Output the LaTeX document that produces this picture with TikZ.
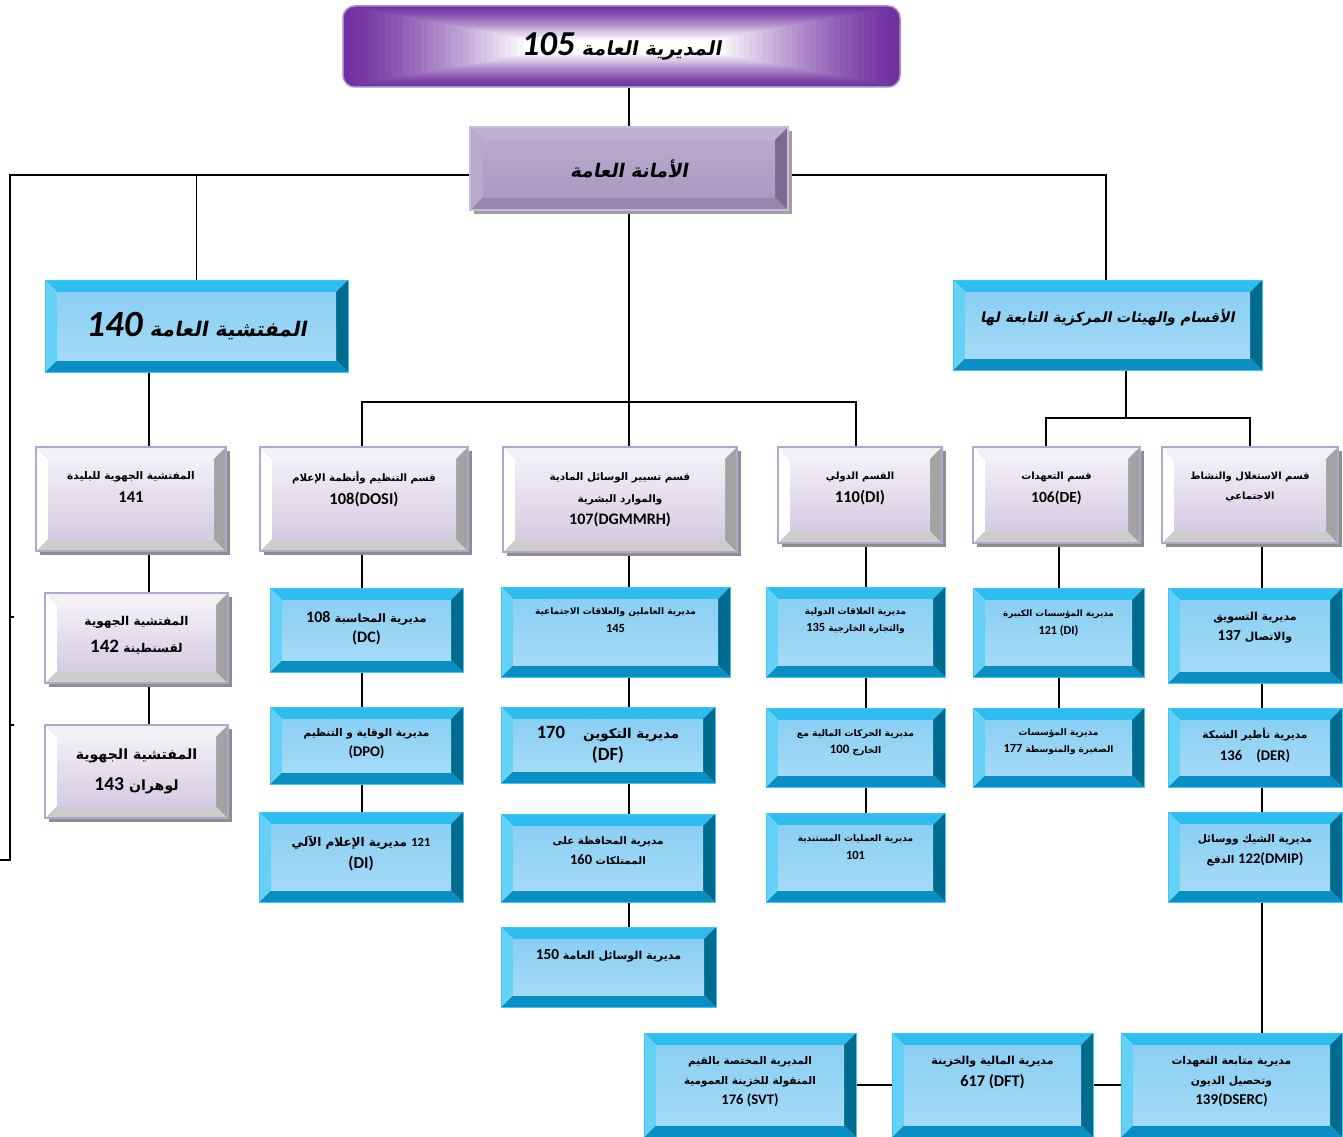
\documentclass[tikz,border=0pt]{standalone}
\usepackage{fontspec}
\usetikzlibrary{shadows,backgrounds}
\TeXXeTstate=1
\setmainfont{Carlito}
\newfontfamily\arfont[Script=Arabic,Scale=0.72]{DejaVu Sans}
\newfontfamily\arslant[Script=Arabic,Scale=0.72,FakeSlant=0.18]{DejaVu Sans}
\newcommand\arl[1]{{\arfont\beginR #1\endR}}
\newcommand\arh[1]{{\arslant\beginR #1\endR}}
\newcommand\nmb[1]{{\rmfamily\beginL #1\endL}}
\newcommand\nmh[1]{{\rmfamily\itshape\beginL #1\endL}}
% larger Latin codes used in the department boxes
\newcommand\codeline[2][16.5]{{\fontsize{#1}{23}\selectfont #2}}

\definecolor{dgPurple}{HTML}{7030A0}
\definecolor{dgEdge}{HTML}{A68CC6}
\definecolor{bOut}{HTML}{3FC6F2}
\definecolor{bTop}{HTML}{2DBDEF}
\definecolor{bLeft}{HTML}{66D1F6}
\definecolor{bRight}{HTML}{006B8F}
\definecolor{bBot}{HTML}{0A8FC4}
\definecolor{bF1}{HTML}{8ACFF3}
\definecolor{bF2}{HTML}{EEF9FE}
\definecolor{bF3}{HTML}{A4DAF6}
\definecolor{lOut}{HTML}{B5A5CD}
\definecolor{lTop}{HTML}{F3F0F6}
\definecolor{lLeft}{HTML}{FFFFFF}
\definecolor{lRight}{HTML}{A3A3A3}
\definecolor{lBot}{HTML}{CCCCCC}
\definecolor{lF1}{HTML}{F2EFF5}
\definecolor{lF2}{HTML}{E4DDEC}
\definecolor{lF3}{HTML}{D5CBE2}
\definecolor{lShade}{HTML}{8E8E8E}
\definecolor{sTop}{HTML}{BEB0D4}
\definecolor{sLeft}{HTML}{B7A8CE}
\definecolor{sRight}{HTML}{7B6A8F}
\definecolor{sBot}{HTML}{9787AD}
\definecolor{sF1}{HTML}{B8A9CE}
\definecolor{sF2}{HTML}{B3A4CA}
\definecolor{sF3}{HTML}{AA9AC1}
\definecolor{sOut}{HTML}{C8BBDB}

% four bevel trapezoids and a shaded face inside the current node
\newcommand\bevelfaces[8]{%
  \path (path picture bounding box.south west) coordinate (bq1)
        (path picture bounding box.north east) coordinate (bq3);
  \path (bq1) ++(#8,#8) coordinate (bi1);
  \path (bq3) ++(-#8,-#8) coordinate (bi3);
  \fill[#1] (bq1 |- bq3) -- (bq3) -- (bi3) -- (bi1 |- bi3) -- cycle;
  \fill[#4] (bq1) -- (bq1 -| bq3) -- (bi1 -| bi3) -- (bi1) -- cycle;
  \fill[#2] (bq1) -- (bi1) -- (bi1 |- bi3) -- (bq1 |- bq3) -- cycle;
  \fill[#3] (bq1 -| bq3) -- (bq3) -- (bi3) -- (bi1 -| bi3) -- cycle;
  \shade[top color=#5, middle color=#6, bottom color=#7] (bi1) rectangle (bi3);
}

\tikzset{
  wire/.style={line width=1.4pt, black},
  boxbase/.style={inner sep=0pt, align=center, text=black},
  bluebox/.style={boxbase, draw=bOut, line width=0.8pt,
    path picture={\bevelfaces{bTop}{bLeft}{bRight}{bBot}{bF1}{bF2}{bF3}{12pt}}},
  lavbox/.style={boxbase, draw=lOut, line width=1.8pt,
    drop shadow={shadow xshift=4pt, shadow yshift=-4pt, fill=lShade, opacity=1, draw=none},
    path picture={\bevelfaces{lTop}{lLeft}{lRight}{lBot}{lF1}{lF2}{lF3}{12pt}}},
  secbox/.style={boxbase, draw=sOut, line width=1.2pt,
    drop shadow={shadow xshift=4pt, shadow yshift=-4pt, fill=gray!75, opacity=1, draw=none},
    path picture={\bevelfaces{sTop}{sLeft}{sRight}{sBot}{sF1}{sF2}{sF3}{13pt}}},
  sz/.style 2 args={font=\bfseries\fontsize{#1}{#2}\selectfont},
  raisetext/.style={text depth=#1},
}

\begin{document}
\begin{tikzpicture}[x=1pt,y=-1pt]
\path[use as bounding box] (0,0) rectangle (1343,1137);
\begin{pgfonlayer}{background}
  \fill[white] (0,0) rectangle (1343,1137);
\end{pgfonlayer}

% ---- head of the chart: rectangular purple-to-white gradient
\begin{scope}
  \clip[rounded corners=12pt] (343,6) rectangle (900,87);
  \foreach \i in {0,...,30} {
    \pgfmathsetmacro\pc{100*(\i/30)^1.3}
    \fill[white!\pc!dgPurple] (343+\i*6, 6+\i*1.1) rectangle (900-\i*6, 87-\i*1.1);
  }
\end{scope}
\node[draw=dgEdge, line width=1.5pt, rounded corners=12pt, minimum width=557pt,
      minimum height=81pt, inner sep=0pt, sz={27}{30}] (dg) at (621.5,46.5)
      {\arh{المديرية العامة {\fontsize{35}{36}\selectfont\nmh{105}}}};

\node[secbox, minimum width=318pt, minimum height=83pt, sz={26}{28}] (sec) at (629,168.5)
      {\arh{الأمانة العامة}};

% ---- second level
\node[bluebox, minimum width=303pt, minimum height=92pt, sz={28}{30}] (insp) at (196.5,326)
      {\arh{المفتشية العامة {\fontsize{37}{38}\selectfont\nmh{140}}}};
\node[bluebox, minimum width=309pt, minimum height=90pt, sz={19.5}{22}, raisetext=18pt] (depts) at (1107.5,325)
      {\arh{الأقسام والهيئات المركزية التابعة لها}};

% ---- departments and regional inspections
\node[lavbox, minimum width=190pt, minimum height=104pt, sz={14.6}{23}, raisetext=23pt] (n141) at (131,499)
      {\arl{المفتشية الجهوية للبليدة}\\\codeline{141}};
\node[lavbox, minimum width=208pt, minimum height=104pt, sz={14.2}{23}, raisetext=23pt] (n108) at (364,499)
      {\arl{قسم التنظيم وأنظمة الإعلام}\\\codeline{108(DOSI)}};
\node[lavbox, minimum width=234pt, minimum height=105pt, sz={14.4}{22}] (n107) at (620,499.5)
      {\arl{قسم تسيير الوسائل المادية}\\\arl{والموارد البشرية}\\\codeline[16]{107(DGMMRH)}};
\node[lavbox, minimum width=164pt, minimum height=96pt, sz={13.8}{23}, raisetext=15pt] (n110) at (860,495)
      {\arl{القسم الدولي}\\\codeline{110(DI)}};
\node[lavbox, minimum width=167pt, minimum height=96pt, sz={13.8}{23}, raisetext=15pt] (n106) at (1056.5,495)
      {\arl{قسم التعهدات}\\\codeline[15.5]{106(DE)}};
\node[lavbox, minimum width=176pt, minimum height=96pt, sz={13.8}{20}, raisetext=19pt] (nsoc) at (1250,495)
      {\arl{قسم الاستغلال والنشاط}\\\arl{الاجتماعي}};
\node[lavbox, minimum width=183pt, minimum height=90pt, sz={16.8}{27}, raisetext=7pt] (n142) at (136.5,638)
      {\arl{المفتشية الجهوية}\\\arl{لقسنطينة {\fontsize{19}{27}\selectfont\nmb{142}}}};
\node[lavbox, minimum width=183pt, minimum height=93pt, sz={19.6}{31}] (n143) at (136.5,771.5)
      {\arl{المفتشية الجهوية}\\\arl{لوهران \nmb{143}}};

% ---- directorates
\node[bluebox, minimum width=193pt, minimum height=84pt, sz={16}{20}, raisetext=7pt] (dc) at (366.5,630)
      {\arl{مديرية المحاسبة \nmb{108}}\\(DC)};
\node[bluebox, minimum width=193pt, minimum height=77pt, sz={14.7}{20}, raisetext=7pt] (dpo) at (366.5,745.5)
      {\arl{مديرية الوقاية و التنظيم}\\(DPO)};
\node[bluebox, minimum width=204pt, minimum height=90pt, sz={16.7}{22}, raisetext=9pt] (dia) at (361,857)
      {\arl{{\fontsize{12.5}{14}\selectfont\nmb{121}} مديرية الإعلام الآلي}\\(DI)};

\node[bluebox, minimum width=229pt, minimum height=90pt, sz={12.5}{18}, raisetext=23pt] (d145) at (615.5,632)
      {\arl{مديرية العاملين والعلاقات الاجتماعية}\\145};
\node[bluebox, minimum width=214pt, minimum height=76pt, sz={18.7}{22}] (ddf) at (608,745)
      {\arl{مديرية التكوين\hspace{18pt}\nmb{170}}\\(DF)};
\node[bluebox, minimum width=214pt, minimum height=88pt, sz={14.4}{20}, raisetext=15pt] (d160) at (608,858)
      {\arl{مديرية المحافظة على}\\\arl{الممتلكات \nmb{160}}};
\node[bluebox, minimum width=215pt, minimum height=80pt, sz={15.3}{20}, raisetext=25pt] (d150) at (608.5,967)
      {\arl{مديرية الوسائل العامة \nmb{150}}};

\node[bluebox, minimum width=179pt, minimum height=90pt, sz={12.5}{17}, raisetext=25pt] (d135) at (855.5,632)
      {\arl{مديرية العلاقات الدولية}\\\arl{والتجارة الخارجية \nmb{135}}};
\node[bluebox, minimum width=179pt, minimum height=79pt, sz={12.8}{17}, raisetext=13pt] (d100) at (855.5,747.5)
      {\arl{مديرية الحركات المالية مع}\\\arl{الخارج \nmb{100}}};
\node[bluebox, minimum width=179pt, minimum height=89pt, sz={12.5}{18}, raisetext=21pt] (d101) at (855.5,857.5)
      {\arl{مديرية العمليات المستندية}\\101};

\node[bluebox, minimum width=171pt, minimum height=89pt, sz={12.2}{18}, raisetext=21pt] (d121) at (1058.5,632.5)
      {\arl{مديرية المؤسسات الكبيرة}\\121 (DI)};
\node[bluebox, minimum width=171pt, minimum height=79pt, sz={12.4}{17}, raisetext=13pt] (d177) at (1058.5,747.5)
      {\arl{مديرية المؤسسات}\\\arl{الصغيرة والمتوسطة \nmb{177}}};

\node[bluebox, minimum width=174pt, minimum height=95pt, sz={15.3}{20}, raisetext=19pt] (d137) at (1255,635.5)
      {\arl{مديرية التسويق}\\\arl{والاتصال \nmb{137}}};
\node[bluebox, minimum width=174pt, minimum height=79pt, sz={14.7}{22}, raisetext=7pt] (d136) at (1255,747.5)
      {\arl{مديرية تأطير الشبكة}\\136\hspace{14pt}(DER)};
\node[bluebox, minimum width=174pt, minimum height=90pt, sz={14.7}{21}, raisetext=17pt] (d122) at (1255,857)
      {\arl{مديرية الشيك ووسائل}\\\arl{\nmb{122(DMIP)} الدفع}};

\node[bluebox, minimum width=221pt, minimum height=104pt, sz={15}{20}, raisetext=9pt] (dserc) at (1231.5,1085)
      {\arl{مديرية متابعة التعهدات}\\\arl{وتحصيل الديون}\\139(DSERC)};
\node[bluebox, minimum width=201pt, minimum height=104pt, sz={15.3}{22}, raisetext=27pt] (dft) at (992.5,1085)
      {\arl{مديرية المالية والخزينة}\\{\fontsize{16.3}{22}\selectfont 617 (DFT)}};
\node[bluebox, minimum width=212pt, minimum height=104pt, sz={14.6}{20}, raisetext=9pt] (svt) at (750,1085)
      {\arl{المديرية المختصة بالقيم}\\\arl{المنقولة للخزينة العمومية}\\176 (SVT)};

% ---- connectors
\coordinate (jL) at (10,175);
\coordinate (jLend) at (10,860);
\coordinate (jLtip) at (0,860);
\coordinate (st1) at (10,617);
\coordinate (st1e) at (14,617);
\coordinate (st2) at (10,725);
\coordinate (st2e) at (14,725);
\coordinate (jR) at (1106,175);
\coordinate (jM1) at (362,402);
\coordinate (jM2) at (856,402);
\coordinate (jD) at (1126,418);
\coordinate (jD1) at (1046,418);
\coordinate (jD2) at (1250,418);
\coordinate (k1) at (149,0);
\coordinate (k2) at (362,0);
\coordinate (k3) at (629,0);
\coordinate (k4) at (866,0);
\coordinate (k5) at (1059,0);
\coordinate (k6) at (1262,0);

\begin{pgfonlayer}{background}
  \draw[wire] (dg.south -| sec) -- (sec.north);
  \draw[wire] (sec.west |- jL) -- (jL) -- (jLend) -- (jLtip);
  \draw[wire] (st1) -- (st1e) (st2) -- (st2e);
  \draw[wire] (insp.north |- jL) -- (insp.north);
  \draw[wire] (sec.east |- jR) -- (jR) -- (jR |- depts.north);
  \draw[wire] (sec.south) -- (sec.south |- n107.north);
  \draw[wire] (jM1 |- n108.north) -- (jM1) -- (jM2) -- (jM2 |- n110.north);
  \draw[wire] (depts.south -| jD) -- (jD);
  \draw[wire] (jD1 |- n106.north) -- (jD1) -- (jD2) -- (jD2 |- nsoc.north);

  \draw[wire] (insp.south -| k1) -- (n141.north -| k1)
              (n141.south -| k1) -- (n142.north -| k1)
              (n142.south -| k1) -- (n143.north -| k1);
  \draw[wire] (n108.south -| k2) -- (dc.north -| k2)
              (dc.south -| k2) -- (dpo.north -| k2)
              (dpo.south -| k2) -- (dia.north -| k2);
  \draw[wire] (n107.south -| k3) -- (d145.north -| k3)
              (d145.south -| k3) -- (ddf.north -| k3)
              (ddf.south -| k3) -- (d160.north -| k3)
              (d160.south -| k3) -- (d150.north -| k3);
  \draw[wire] (n110.south -| k4) -- (d135.north -| k4)
              (d135.south -| k4) -- (d100.north -| k4)
              (d100.south -| k4) -- (d101.north -| k4);
  \draw[wire] (n106.south -| k5) -- (d121.north -| k5)
              (d121.south -| k5) -- (d177.north -| k5);
  \draw[wire] (nsoc.south -| k6) -- (d137.north -| k6)
              (d137.south -| k6) -- (d136.north -| k6)
              (d136.south -| k6) -- (d122.north -| k6)
              (d122.south -| k6) -- (dserc.north -| k6);
  \draw[wire] (dserc.west) -- (dft.east) (dft.west) -- (svt.east);
\end{pgfonlayer}
\end{tikzpicture}
\end{document}
